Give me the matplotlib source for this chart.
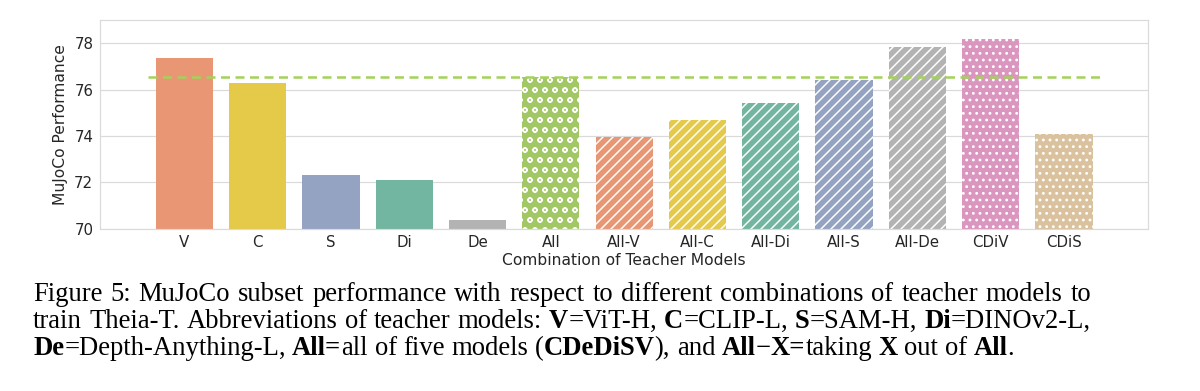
"""
MuJoCo subset performance for different combinations of teacher models (Theia-T),
bar chart plus the paper caption underneath.
"""

import colorsys
import numpy as np
import matplotlib
matplotlib.use("Agg")
import matplotlib.pyplot as plt
import matplotlib.colors as mcolors

DPI = 120            # hatch cell is 1 inch, so this sets the hatch spacing
W_PX, H_PX = 1200, 391

# ---------------------------------------------------------------------------
# Data
# ---------------------------------------------------------------------------
CATEGORIES = ["V", "C", "S", "Di", "De", "All", "All-V", "All-C", "All-Di",
              "All-S", "All-De", "CDiV", "CDiS"]
PERFORMANCE = [77.35, 76.27, 72.33, 72.09, 70.39, 76.55, 73.94, 74.70, 75.42,
               76.43, 77.85, 78.16, 74.10]
BASE_COLORS = ["#fc8d62", "#ffd92f", "#8da0cb", "#66c2a5", "#b3b3b3", "#a6d854",
               "#fc8d62", "#ffd92f", "#66c2a5", "#8da0cb", "#b3b3b3", "#e78ac3",
               "#e5c494"]
HATCHES = ["", "", "", "", "", "oo", "////", "////", "////", "////", "////",
           "...", "..."]
REFERENCE = "All"          # dashed line sits at this bar's value
Y_TICKS = [70, 72, 74, 76, 78]

CAPTION = [
    [("Figure 5: MuJoCo subset performance with respect to different "
      "combinations of teacher models to", False)],
    [("train Theia-T. Abbreviations of teacher models: ", False), ("V", True),
     ("=ViT-H, ", False), ("C", True), ("=CLIP-L, ", False), ("S", True),
     ("=SAM-H, ", False), ("Di", True), ("=DINOv2-L,", False)],
    [("De", True), ("=Depth-Anything-L, ", False), ("All=", True),
     ("all of five models (", False), ("CDeDiSV", True), ("), and ", False),
     ("All", True), ("\u2212", False), ("X=", True), ("taking ", False),
     ("X", True), (" out of ", False), ("All", True), (".", False)],
]


def desaturate(c, prop=0.75):
    # same thing seaborn does to barplot colours (saturation=.75)
    h, l, s = colorsys.rgb_to_hls(*mcolors.to_rgb(c))
    return colorsys.hls_to_rgb(h, l, s * prop)


plt.rcParams["font.family"] = "DejaVu Sans"
plt.rcParams["hatch.color"] = "white"
plt.rcParams["hatch.linewidth"] = 0.9
TEXT_C = "#262626"
GRID_C = "#dadada"

fig = plt.figure(figsize=(W_PX / DPI, H_PX / DPI), dpi=DPI)
fig.patch.set_facecolor("white")
ax = fig.add_axes([100 / W_PX, 1 - 228.7 / H_PX, 1048.3 / W_PX, 208.7 / H_PX])

x = np.arange(len(CATEGORIES))
colors = [desaturate(c) for c in BASE_COLORS]
bars = ax.bar(x, PERFORMANCE, width=0.78, color=colors, edgecolor="white",
              linewidth=0, zorder=2)
for b, h in zip(bars, HATCHES):
    b.set_hatch(h)

ref_val = PERFORMANCE[CATEGORIES.index(REFERENCE)]
ax.hlines(ref_val, -0.5, len(CATEGORIES) - 0.5, colors=desaturate("#a6d854", 0.9),
          linewidth=1.5, linestyles=(0, (3.6, 2.2)), zorder=4)

ax.set_xlim(-1.15, len(CATEGORIES) - 1 + 1.15)
ax.set_ylim(70, 79)
ax.set_yticks(Y_TICKS)
ax.set_xticks(x)
ax.set_xticklabels(CATEGORIES)
ax.tick_params(length=0, labelsize=9, labelcolor=TEXT_C)
ax.tick_params(axis="x", pad=3.5)
ax.tick_params(axis="y", pad=4)
ax.yaxis.grid(True, color=GRID_C, linewidth=0.7)
ax.set_axisbelow(True)
for sp in ax.spines.values():
    sp.set_color(GRID_C)
    sp.set_linewidth(0.7)

ax.set_xlabel("Combination of Teacher Models", fontsize=9.3, color=TEXT_C, labelpad=2.2)
ax.set_ylabel("MuJoCo Performance", fontsize=9.3, color=TEXT_C, labelpad=3.5)

# ---------------------------------------------------------------------------
# Caption: Times-like serif with bold runs, first two lines justified.
# ---------------------------------------------------------------------------
CAP_FS = 16
CAP_X0, CAP_X1 = 33, 1091
CAP_BASELINES = [301, 328, 355]
renderer = fig.canvas.get_renderer()


def cap_text(s, bold, xpx=0, ypx=0):
    return fig.text(xpx / W_PX, 1 - ypx / H_PX, s, fontsize=CAP_FS,
                    family="Liberation Serif", color="black",
                    fontweight="bold" if bold else "normal",
                    ha="left", va="baseline")


def text_width(s, bold):
    t = cap_text(s, bold)
    w = t.get_window_extent(renderer).width
    t.remove()
    return w


space_w = text_width("x x", False) - text_width("xx", False)

for i, segs in enumerate(CAPTION):
    words, cur = [], []
    for s, bold in segs:
        parts = s.split(" ")
        for k, p in enumerate(parts):
            if k > 0 and cur:
                words.append(cur)
                cur = []
            if p:
                cur.append((p, bold))
    if cur:
        words.append(cur)
    widths = [[text_width(p, b) for p, b in w] for w in words]
    total = sum(sum(w) for w in widths)
    if i < len(CAPTION) - 1:
        gap = (CAP_X1 - CAP_X0 - total) / (len(words) - 1)
    else:
        gap = space_w
    xp = CAP_X0
    for w, ws in zip(words, widths):
        for (p, b), pw in zip(w, ws):
            cap_text(p, b, xp, CAP_BASELINES[i])
            xp += pw
        xp += gap

fig.savefig("out.png", dpi=DPI, facecolor="white")
